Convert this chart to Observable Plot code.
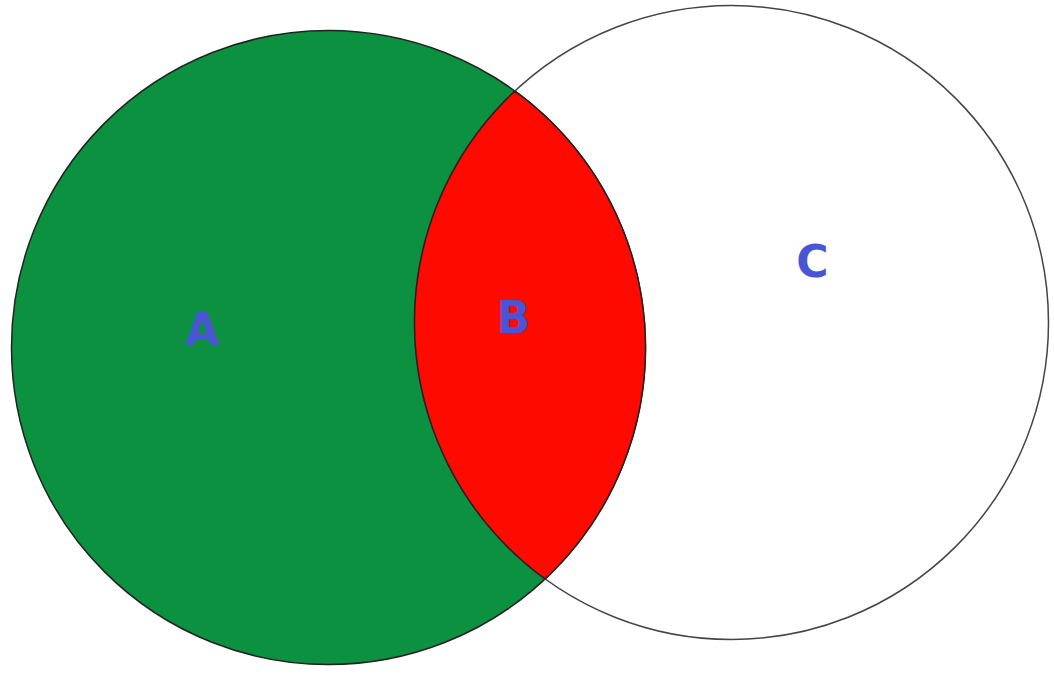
<!DOCTYPE html>
<html><head>
<script src="https://cdn.jsdelivr.net/npm/d3@7"></script>
<script src="https://cdn.jsdelivr.net/npm/@observablehq/plot@0.6"></script>
<style>body{margin:0;background:#fff}</style>
</head><body><div id="chart"></div>
<script>
const sets = ["A", "C"];
const centersX = [328, 731];
const centersY = [347, 322];
const radii = [317, 317];
const labels = ["A", "B", "C"];
const labelX = [202, 513, 812];
const labelY = [330, 318, 262];

const circles = sets.map((s, i) => ({s, x: centersX[i], y: centersY[i], r: radii[i]}));
const [A, C] = circles;
const dx = C.x - A.x, dy = C.y - A.y, d = Math.hypot(dx, dy);
const t0 = Math.atan2(dy, dx);
const al = Math.acos((d*d + A.r*A.r - C.r*C.r) / (2*d*A.r));
const be = Math.acos((d*d + C.r*C.r - A.r*A.r) / (2*d*C.r));
const lens = [];
const N = 120;
for (let i = 0; i <= N; i++) { const t = t0 - al + 2*al*i/N; lens.push({x: A.x + A.r*Math.cos(t), y: A.y + A.r*Math.sin(t)}); }
for (let i = 0; i <= N; i++) { const t = t0 + Math.PI - be + 2*be*i/N; lens.push({x: C.x + C.r*Math.cos(t), y: C.y + C.r*Math.sin(t)}); }
const lab = labels.map((l, i) => ({l, x: labelX[i], y: labelY[i]}));

const chart = Plot.plot({
  width: 1054, height: 674, margin: 0,
  x: {domain: [0, 1054], range: [0, 1054], axis: null},
  y: {domain: [0, 674], range: [0, 674], axis: null},
  r: {type: "identity"},
  style: {background: "#fff"},
  marks: [
    Plot.dot([A], {x: "x", y: "y", r: "r", fill: "#0b9140", stroke: "#222", strokeWidth: 1.5}),
    Plot.dot([C], {x: "x", y: "y", r: "r", fill: "none", stroke: "#444", strokeWidth: 1.5}),
    Plot.line(lens, {x: "x", y: "y", fill: "#ff0a00", stroke: "#222", strokeWidth: 1.5}),
    Plot.text(lab, {x: "x", y: "y", text: "l", fill: "#4a55d6", fontSize: 44, fontWeight: "bold", fontFamily: "DejaVu Sans"})
  ]
});
document.getElementById("chart").append(chart);
</script></body></html>
